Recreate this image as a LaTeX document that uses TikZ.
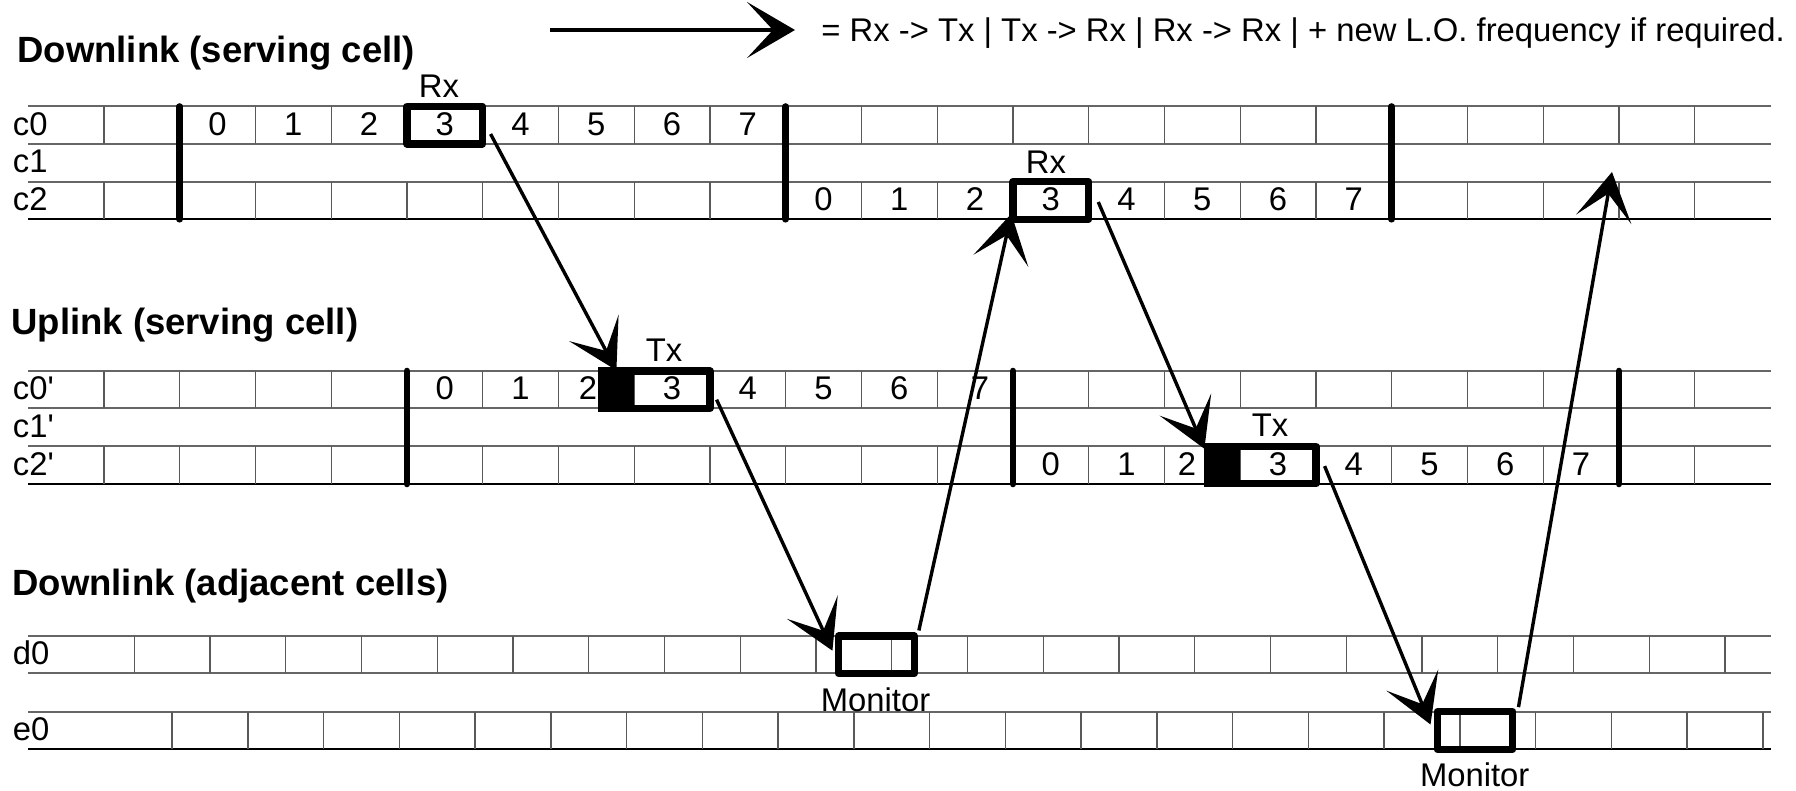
\documentclass[tikz,border=0pt]{standalone}
\usepackage{fontspec}
\setmainfont{Liberation Sans}[Ligatures=TeXOff]
\usetikzlibrary{arrows.meta,calc}
\begin{document}
\begin{tikzpicture}[x=0.5pt,y=-0.5pt,
  hl/.style={draw=black!60, line width=1pt},
  hlb/.style={draw=black, line width=1pt},
  vl/.style={draw=black!65, line width=0.7pt},
  framebar/.style={line width=3.3pt, line cap=round},
  slotbox/.style={draw, line width=3.6pt, line join=round, inner sep=0pt, minimum width=37.875pt, minimum height=18.75pt},
  txt/.style={font=\fontsize{16.4}{19}\selectfont, inner sep=0pt, anchor=base},
  rowlbl/.style={txt, anchor=base west},
  title/.style={font=\bfseries\fontsize{18.25}{21}\selectfont, inner sep=0pt, anchor=base west},
  conn/.style={line width=1.7pt, -{Stealth[length=24pt,width=28pt,inset=13pt]}}
]
\useasboundingbox (0,0) rectangle (1796,791);

% ---------- Downlink (serving cell) grid
\foreach \y in {106.5,144,181.7} \draw[hl] (28.2,\y) -- (1770.5,\y);
\draw[hlb] (28.2,219.3) -- (1770.5,219.3);
\foreach \k in {1,...,22} {
  \draw[vl] ({28.2+75.75*\k},106.5) -- ++(0,37.5);
  \draw[vl] ({28.2+75.75*\k},181.7) -- ++(0,37.6);
}
\foreach \k in {2,10,18} \draw[framebar] ({28.2+75.75*\k},106.5) -- ({28.2+75.75*\k},219.3);

% ---------- Uplink (serving cell) grid
\foreach \y in {371,408.5,446.3} \draw[hl] (28.2,\y) -- (1770.5,\y);
\draw[hlb] (28.2,484) -- (1770.5,484);
\foreach \k in {1,...,22} {
  \draw[vl] ({28.2+75.75*\k},371) -- ++(0,37.5);
  \draw[vl] ({28.2+75.75*\k},446.3) -- ++(0,37.7);
}
\foreach \k in {5,13,21} \draw[framebar] ({28.2+75.75*\k},371) -- ({28.2+75.75*\k},484);

% ---------- Downlink (adjacent cells) grid
\draw[hl] (28.2,636) -- (1770.5,636);
\draw[hl] (28.2,673.3) -- (1770.5,673.3);
\draw[hl] (28.2,711.7) -- (1770.5,711.7);
\draw[hlb] (28.2,749.3) -- (1770.5,749.3);
\foreach \k in {1,...,22} {
  \draw[vl] ({58.5+75.75*\k},636) -- ++(0,37.3);
  \draw[vl] ({96.4+75.75*\k},711.7) -- ++(0,37.6);
}

% ---------- titles and legend
\node[title] (t1) at (17,63) {Downlink (serving cell)};
\node[title] (t2) at (11,335) {Uplink (serving cell)};
\node[title] (t3) at (12,596) {Downlink (adjacent cells)};
\node[txt, anchor=base west] (leg) at (821,42) {= Rx -> Tx | Tx -> Rx | Rx -> Rx | + new L.O. frequency if required.};
\coordinate (lgS) at (550,30);
\coordinate (lgE) at (795,30);
\draw[conn, line width=2pt] (lgS) -- (lgE);

% ---------- row labels
\node[rowlbl] (lc0) at (12.5,135.2) {c0};
\node[rowlbl] (lc1) at (12.5,172.9) {c1};
\node[rowlbl] (lc2) at (12.5,210.5) {c2};
\node[rowlbl] (lu0) at (12.5,399.7) {c0'};
\node[rowlbl] (lu1) at (12.5,437.4) {c1'};
\node[rowlbl] (lu2) at (12.5,475.1) {c2'};
\node[rowlbl] (ld0) at (12.5,664.7) {d0};
\node[rowlbl] (le0) at (12.5,740.5) {e0};

% ---------- timeslot numbers
\foreach \n in {0,...,7} {
  \node[txt] (na\n) at ({217.575+75.75*\n},135.2) {\n};
  \node[txt] (nb\n) at ({823.575+75.75*\n},210.5) {\n};
}
\foreach \n/\xx in {0/444.8,1/520.6,2/588,3/672.1,4/747.8,5/823.6,6/899.3,7/980}
  \node[txt] (nc\n) at (\xx,399.7) {\n};
\foreach \n/\xx in {0/1050.8,1/1126.6,2/1187,3/1278.1,4/1353.8,5/1429.6,6/1505.3,7/1581.1}
  \node[txt] (nd\n) at (\xx,475.1) {\n};

% ---------- highlighted slots
\node[slotbox] (rxA) at (444.8,125.2) {};
\node[slotbox] (rxB) at (1050.8,200.5) {};
\node[slotbox, minimum width=54pt] (txA) at (656,389.7) {};
\node[slotbox, minimum width=54pt] (txB) at (1262,465.1) {};
\fill ($(txA.north west)$) rectangle ($(txA.south west)+(35.7,0)$);
\fill ($(txB.north west)$) rectangle ($(txB.south west)+(35.7,0)$);
\node[slotbox, minimum height=18.65pt] (mA) at (876.4,654.7) {};
\node[slotbox] (mB) at (1475,730.5) {};

\node[txt] (lrxA) at (439,97.5) {Rx};
\node[txt] (lrxB) at (1046,173.5) {Rx};
\node[txt] (ltxA) at (664,361.7) {Tx};
\node[txt] (ltxB) at (1270,437) {Tx};
\node[txt] (lmA) at (875.5,711) {Monitor};
\node[txt] (lmB) at (1474.7,786) {Monitor};

% ---------- connectors
\draw[conn] ($(rxA.east)+(4.3,8.8)$) -- ($(txA.north west)+(18,3)$);
\draw[conn] ($(txA.east)+(3,10)$) -- ($(mA.west)+(-2.5,-4)$);
\draw[conn] ($(mA.north east)+(1,-2)$) -- ($(rxB.south west)+(2,-9)$);
\draw[conn] ($(rxB.east)+(6,1.5)$) -- ($(txB.north west)+(0,6)$);
\draw[conn] ($(txB.east)+(5,1)$) -- ($(mB.west)+(-3,-6)$);
\coordinate (a6end) at (1612,172);
\draw[conn] ($(mB.north east)+(2,-1)$) -- (a6end);
\end{tikzpicture}
\end{document}
